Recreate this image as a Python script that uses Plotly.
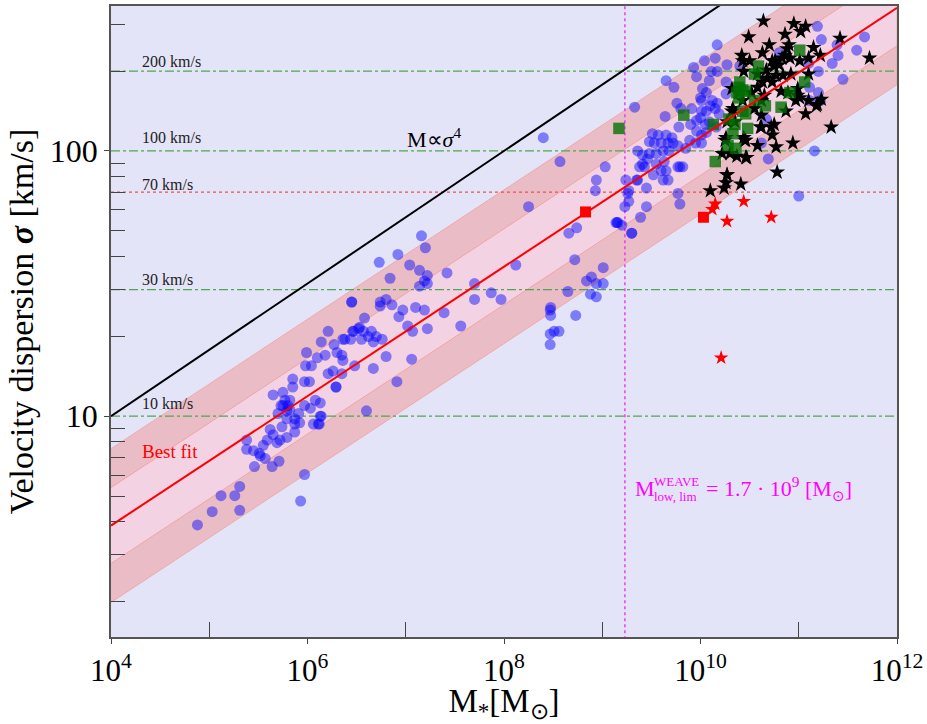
import numpy as np
import plotly.graph_objects as go

# ---------------------------------------------------------------------------
# Sample data: log10 stellar mass [M_sun] and log10 velocity dispersion [km/s]
# ---------------------------------------------------------------------------
blue_logm = [
    6.45, 6.21, 6.14, 6.46, 6.52, 6.36, 6.44, 6.27, 6.30, 6.18, 6.10, 5.99, 5.98, 6.04,
    6.36, 6.48, 6.21, 6.26, 6.35, 5.97, 6.02, 6.29, 5.85, 5.85, 5.65, 5.75, 5.77, 5.73,
    5.80, 5.82, 5.91, 5.97, 6.08, 6.13, 6.03, 6.14, 6.06, 6.11, 5.92, 5.87, 5.79, 5.74,
    5.62, 5.65, 5.87, 5.79, 5.72, 5.59, 5.55, 5.69, 5.38, 5.38, 5.45, 5.51, 5.57, 5.52,
    5.64, 5.71, 5.46, 5.97, 5.31, 5.12, 5.26, 5.03, 5.31, 5.93, 4.88, 6.60, 6.29, 6.91,
    6.13, 6.12, 5.75, 5.82, 5.79, 5.87, 5.70,
    8.40, 8.57, 9.03, 8.94, 8.93, 8.25, 8.74, 8.66, 9.14, 7.16, 7.20, 6.92, 6.73, 7.04,
    7.14, 7.22, 7.42, 8.12, 8.72, 9.01, 6.84, 7.19, 7.22, 7.14, 7.70, 7.87, 7.97, 7.70,
    6.45, 6.74, 6.80, 6.86, 6.74, 6.97, 7.10, 7.19, 7.39, 6.93, 6.58, 6.53, 6.47, 6.57,
    6.65, 6.62, 6.70, 6.76, 6.55, 6.38, 6.67, 7.02, 7.07, 7.22, 7.56, 8.475, 8.47, 8.475,
    8.73, 8.47, 8.51, 8.56, 8.47, 8.65, 8.88, 8.94, 8.84, 8.89, 8.94, 9.01, 6.80, 7.06,
    6.67, 6.35,
    9.26, 9.23, 9.27, 9.45, 9.39, 9.15, 9.20, 9.30, 9.38, 9.43, 9.52, 9.62, 9.65, 9.77,
    9.82, 9.77, 9.79, 9.35, 9.45,
    10.17, 10.04, 10.15, 10.27, 10.40, 9.93, 9.96, 10.11, 10.17, 9.65, 9.73, 10.09, 10.02,
    10.06, 10.26, 10.00, 10.01, 10.12, 10.10, 10.17, 10.15, 10.26, 9.76, 9.80, 9.91, 10.01,
    10.06, 10.19, 9.33, 9.64, 9.90, 9.96, 10.00, 10.05, 10.09, 10.16, 9.78, 9.51, 9.57,
    9.65, 9.71, 9.96, 10.01, 10.06, 9.48, 9.53, 9.60, 9.67, 9.72, 9.77, 9.89, 9.95, 10.01,
    9.36, 9.41, 9.48, 9.55, 9.62, 9.68, 9.85, 9.46, 9.41, 9.55, 9.63, 9.79, 9.60, 9.67,
    9.24, 9.36, 9.27,
    11.19, 11.67, 11.23, 11.39, 11.59, 11.40, 11.34, 10.80, 11.10, 11.20, 11.45, 11.11,
    11.20, 11.22, 11.11, 10.67, 10.62, 10.69, 11.16, 11.00, 9.16, 9.30,
]
blue_logsig = [
    1.43, 1.32, 1.28, 1.32, 1.33, 1.29, 1.29, 1.27, 1.24, 1.23, 1.22, 1.24, 1.19, 1.19,
    1.21, 1.19, 1.16, 1.17, 1.16, 1.13, 1.13, 1.11, 1.14, 1.11, 1.08, 1.09, 1.06, 1.04,
    1.04, 1.025, 1.01, 1.04, 1.06, 1.05, 1.03, 1.00, 0.97, 0.97, 0.975, 0.97, 0.99, 0.96,
    0.95, 0.93, 0.94, 0.92, 0.91, 0.91, 0.89, 0.90, 0.91, 0.875, 0.87, 0.86, 0.84, 0.85,
    0.81, 0.83, 0.81, 0.78, 0.735, 0.70, 0.70, 0.64, 0.645, 0.68, 0.59, 1.02, 1.11, 1.13,
    1.00, 0.97, 1.04, 1.06, 1.02, 0.99, 1.01,
    2.05, 1.96, 1.94, 1.89, 1.85, 1.79, 1.71, 1.69, 1.73, 1.68, 1.635, 1.61, 1.58, 1.57,
    1.55, 1.53, 1.54, 1.57, 1.59, 1.56, 1.52, 1.51, 1.50, 1.49, 1.50, 1.465, 1.44, 1.44,
    1.43, 1.43, 1.44, 1.42, 1.415, 1.40, 1.41, 1.40, 1.39, 1.375, 1.37, 1.335, 1.32, 1.32,
    1.32, 1.30, 1.30, 1.29, 1.29, 1.29, 1.28, 1.34, 1.32, 1.33, 1.34, 1.41, 1.40, 1.38,
    1.38, 1.31, 1.32, 1.32, 1.27, 1.47, 1.46, 1.45, 1.51, 1.525, 1.50, 1.50, 1.225, 1.215,
    1.18, 1.23,
    1.84, 1.79, 1.81, 1.79, 1.75, 1.73, 1.72, 1.69, 1.94, 1.94, 1.91, 1.89, 1.925, 1.94,
    1.94, 1.84, 1.80, 1.89, 1.86,
    2.40, 2.34, 2.35, 2.325, 2.32, 2.315, 2.28, 2.30, 2.30, 2.265, 2.24, 2.265, 2.235,
    2.22, 2.26, 2.20, 2.19, 2.19, 2.17, 2.18, 2.16, 2.215, 2.18, 2.16, 2.16, 2.15,
    2.15, 2.14, 2.165, 2.13, 2.10, 2.115, 2.125, 2.10, 2.11, 2.09, 2.09, 2.065, 2.06,
    2.06, 2.05, 2.075, 2.06, 2.07, 2.035, 2.03, 2.03, 2.03, 2.03, 2.02, 2.04, 2.03, 2.03,
    2.00, 1.985, 1.99, 1.99, 2.00, 2.00, 2.01, 1.97, 1.95, 1.95, 1.96, 1.94, 1.925, 1.89,
    1.89, 1.89, 1.85,
    2.47, 2.43, 2.42, 2.40, 2.38, 2.36, 2.33, 2.37, 2.33, 2.30, 2.27, 2.24,
    2.22, 2.19, 2.19, 2.12, 2.03, 1.97, 2.00, 1.83, 1.73, 1.69,
]

star_logm = [
    10.64, 10.95, 11.02, 11.07, 10.49, 10.86, 10.70, 10.90, 10.88, 11.15, 11.42, 10.42,
    10.43, 10.63, 10.76, 11.01, 11.22, 11.10, 11.72, 10.91, 10.83, 10.75, 10.80, 10.67,
    10.44, 10.68, 10.77, 10.84, 10.92, 11.10, 10.63, 10.73, 10.58, 10.32, 10.39, 10.82,
    10.99, 11.01, 11.10, 11.23, 11.19, 10.97, 10.43, 10.33, 10.87, 11.07, 10.62, 10.27,
    10.72, 10.62, 10.75, 11.33, 10.26, 10.44, 10.73, 10.45, 10.58, 10.77, 10.94, 10.22,
    10.30, 10.37, 10.47, 10.78, 10.27, 10.26, 10.41, 10.24, 10.10, 10.86, 10.73, 10.58,
    10.89, 10.99, 11.18, 10.61, 10.46, 10.46, 10.32, 10.25, 10.27, 10.52, 10.62, 10.35,
    10.55, 10.50, 10.65,
]
star_logsig = [
    2.49, 2.48, 2.45, 2.47, 2.43, 2.44, 2.40, 2.40, 2.385, 2.39, 2.425, 2.36,
    2.34, 2.37, 2.34, 2.34, 2.36, 2.35, 2.35, 2.35, 2.35, 2.32, 2.325, 2.305,
    2.30, 2.275, 2.285, 2.285, 2.29, 2.29, 2.26, 2.26, 2.24, 2.235, 2.22, 2.225,
    2.235, 2.20, 2.19, 2.195, 2.175, 2.19, 2.19, 2.16, 2.15, 2.14, 2.135, 2.11,
    2.09, 2.09, 2.10, 2.09, 2.05, 2.05, 2.06, 2.04, 2.02, 2.015, 2.03, 1.99,
    1.99, 1.98, 1.975, 1.92, 1.91, 1.88, 1.875, 1.86, 1.85, 2.36, 2.34, 2.29,
    2.22, 2.21, 2.17, 2.09, 2.04, 1.975, 2.15, 2.04, 1.91, 2.22, 2.19, 2.11,
    2.16, 2.34, 2.21,
]

green_logm = [
    11.01, 10.59, 10.55, 10.40, 10.43, 10.37, 11.06, 10.91, 10.55, 10.66, 10.82, 10.46,
    9.83, 10.13, 10.29, 10.35, 10.48, 9.17, 10.33, 10.28, 10.36, 10.15, 10.39, 10.39,
    10.43, 10.46,
]
green_logsig = [
    2.38, 2.32, 2.29, 2.26, 2.23, 2.22, 2.26, 2.22, 2.19, 2.17, 2.165, 2.14,
    2.135, 2.10, 2.12, 2.10, 2.085, 2.085, 2.065, 2.02, 2.01, 1.96, 2.24, 2.20,
    2.15, 2.225,
]

red_star_logm = [10.15, 10.12, 10.44, 10.27, 10.72, 10.21]
red_star_logsig = [1.80, 1.78, 1.81, 1.735, 1.75, 1.22]

red_square_logm = [8.83, 10.03]
red_square_logsig = [1.77, 1.75]

# Best-fit relation log(sigma) = FIT_ZERO + FIT_SLOPE * log(M) and its scatter bands
FIT_SLOPE = 0.244
FIT_ZERO = -0.3885
INNER_DEX = 0.143
OUTER_DEX = 0.29

# Reference velocity levels (km/s)
ref_levels = [200, 100, 30, 10]
ref_labels = ["200 km/s", "100 km/s", "30 km/s", "10 km/s"]
ref_label_shift = [-1, 3, 0, 2]
red_level = 70
weave_mass_limit = 1.7e9

SERIF = "Liberation Serif, Times New Roman, serif"

fig = go.Figure()

mass_grid = np.array([1e4, 1e12])
log_grid = np.log10(mass_grid)


def band(offset):
    return 10 ** (FIT_ZERO + FIT_SLOPE * log_grid + offset)


# Outer scatter band
fig.add_trace(go.Scatter(
    x=np.concatenate([mass_grid, mass_grid[::-1]]),
    y=np.concatenate([band(OUTER_DEX), band(-OUTER_DEX)[::-1]]),
    fill="toself", fillcolor="rgb(234,189,198)", mode="lines",
    line=dict(width=1, color="rgba(245,140,130,0.55)"), hoverinfo="skip"))
# Inner scatter band
fig.add_trace(go.Scatter(
    x=np.concatenate([mass_grid, mass_grid[::-1]]),
    y=np.concatenate([band(INNER_DEX), band(-INNER_DEX)[::-1]]),
    fill="toself", fillcolor="rgb(243,211,227)", mode="lines",
    line=dict(width=1, color="rgba(245,140,130,0.6)"), hoverinfo="skip"))

# Horizontal reference levels
for lev in ref_levels:
    fig.add_trace(go.Scatter(x=mass_grid, y=[lev, lev], mode="lines",
                             line=dict(color="rgb(80,165,80)", width=1.3, dash="dashdot"),
                             hoverinfo="skip"))
fig.add_trace(go.Scatter(x=mass_grid, y=[red_level, red_level], mode="lines",
                         line=dict(color="rgb(235,80,80)", width=1.2, dash="dot"),
                         hoverinfo="skip"))
# WEAVE lower mass limit
fig.add_trace(go.Scatter(x=[weave_mass_limit, weave_mass_limit], y=[1.0, 1000.0], mode="lines",
                         line=dict(color="rgb(240,60,240)", width=1.5, dash="dot"),
                         hoverinfo="skip"))
# M ∝ sigma^4
fig.add_trace(go.Scatter(x=mass_grid, y=mass_grid ** 0.25, mode="lines",
                         line=dict(color="black", width=2), hoverinfo="skip"))

# Data points
fig.add_trace(go.Scatter(
    x=10 ** np.array(blue_logm), y=10 ** np.array(blue_logsig), mode="markers",
    marker=dict(symbol="circle", size=11, color="rgba(0,0,255,0.45)", line=dict(width=0))))
fig.add_trace(go.Scatter(
    x=10 ** np.array(star_logm), y=10 ** np.array(star_logsig), mode="markers",
    marker=dict(symbol="star", size=12, color="black", line=dict(width=0))))
fig.add_trace(go.Scatter(
    x=10 ** np.array(green_logm), y=10 ** np.array(green_logsig), mode="markers",
    marker=dict(symbol="square", size=11.5, color="rgba(0,110,0,0.78)", line=dict(width=0))))
fig.add_trace(go.Scatter(
    x=10 ** np.array(red_star_logm), y=10 ** np.array(red_star_logsig), mode="markers",
    marker=dict(symbol="star", size=11, color="red", line=dict(width=0))))
fig.add_trace(go.Scatter(
    x=10 ** np.array(red_square_logm), y=10 ** np.array(red_square_logsig), mode="markers",
    marker=dict(symbol="square", size=11, color="red", line=dict(width=0))))

# Best-fit line
fig.add_trace(go.Scatter(x=mass_grid, y=band(0.0), mode="lines",
                         line=dict(color="red", width=2), hoverinfo="skip"))

annotations = []
for lev, lab, sh in zip(ref_levels, ref_labels, ref_label_shift):
    annotations.append(dict(x=4.3, y=np.log10(lev), xref="x", yref="y", text=lab,
                            showarrow=False, xanchor="left", yanchor="bottom", yshift=sh,
                            font=dict(family=SERIF, size=16, color="#222")))
annotations.append(dict(x=4.3, y=np.log10(red_level), xref="x", yref="y", text="70 km/s",
                        showarrow=False, xanchor="left", yanchor="bottom", yshift=-3,
                        font=dict(family=SERIF, size=16, color="#222")))
annotations.append(dict(x=4.3, y=0.868, xref="x", yref="y", text="Best fit",
                        showarrow=False, xanchor="left", yanchor="middle",
                        font=dict(family=SERIF, size=19, color="red")))
annotations.append(dict(x=6.99, y=2.05, xref="x", yref="y", text="M∝<i>σ</i><sup>4</sup>",
                        showarrow=False, xanchor="left", yanchor="middle",
                        font=dict(family=SERIF, size=22, color="black")))
# WEAVE mass-limit label: M with stacked super/subscript, then the value
annotations.append(dict(x=9.31, y=0.727, xref="x", yref="y", text="M",
                        showarrow=False, xanchor="left", yanchor="middle",
                        font=dict(family=SERIF, size=22, color="magenta")))
annotations.append(dict(x=9.505, y=0.752, xref="x", yref="y", text="WEAVE",
                        showarrow=False, xanchor="left", yanchor="middle",
                        font=dict(family=SERIF, size=13, color="magenta")))
annotations.append(dict(x=9.505, y=0.697, xref="x", yref="y", text="low, lim",
                        showarrow=False, xanchor="left", yanchor="middle",
                        font=dict(family=SERIF, size=13, color="magenta")))
annotations.append(dict(x=10.04, y=0.727, xref="x", yref="y",
                        text="= 1.7 · 10<sup>9</sup> [M<sub>⊙</sub>]",
                        showarrow=False, xanchor="left", yanchor="middle",
                        font=dict(family=SERIF, size=22, color="magenta")))

fig.update_layout(
    width=927, height=724,
    margin=dict(l=111, r=29, t=4, b=86),
    paper_bgcolor="white", plot_bgcolor="rgb(228,228,248)",
    showlegend=False,
    annotations=annotations,
    font=dict(family=SERIF, color="black"),
)

fig.update_xaxes(
    type="log", range=[4, 12],
    tickvals=[1e4, 1e6, 1e8, 1e10, 1e12],
    ticktext=["10<sup>4</sup>", "10<sup>6</sup>", "10<sup>8</sup>", "10<sup>10</sup>", "10<sup>12</sup>"],
    ticks="outside", ticklen=5, tickwidth=1.3, tickcolor="#444",
    tickfont=dict(family=SERIF, size=31, color="black"),
    minor=dict(tickvals=[1e5, 1e7, 1e9, 1e11], ticks="inside", ticklen=15,
               tickwidth=1.3, tickcolor="#444", showgrid=False),
    showline=True, linecolor="#555", linewidth=1.5, mirror=True,
    showgrid=False, zeroline=False,
    title=dict(text="M<sub>*</sub>[M<sub>⊙</sub>]", font=dict(family=SERIF, size=33), standoff=9),
)

y_minor = [2, 3, 4, 5, 6, 7, 8, 9, 20, 30, 40, 50, 60, 70, 80, 90, 200, 300]
fig.update_yaxes(
    type="log", range=[np.log10(1.47), np.log10(352)],
    tickvals=[10, 100], ticktext=["10", "100"],
    ticks="outside", ticklen=5, tickwidth=1.3, tickcolor="#444",
    tickfont=dict(family=SERIF, size=32, color="black"),
    minor=dict(tickvals=y_minor, ticks="inside", ticklen=14,
               tickwidth=1.3, tickcolor="#444", showgrid=False),
    showline=True, linecolor="#555", linewidth=1.5, mirror=True,
    showgrid=False, zeroline=False,
    title=dict(text="Velocity dispersion <b><i>σ</i></b> [km/s]",
               font=dict(family=SERIF, size=34), standoff=6),
)

fig.write_html("out.html")
